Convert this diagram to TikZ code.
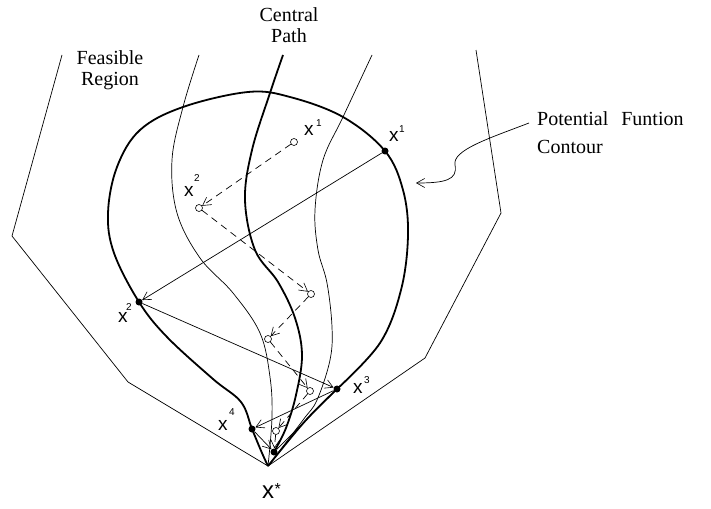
\documentclass[tikz,border=0pt]{standalone}
\usepackage{fontspec}
\setmainfont{Liberation Serif}
\newfontfamily\labfont{Liberation Sans}
\usetikzlibrary{arrows.meta}
\newcommand\xlab[3]{x\kern#1pt\raisebox{#2pt}{\fontsize{10}{10}\selectfont #3}}
\begin{document}
\begin{tikzpicture}[x=1pt,y=-1pt,
  fline/.style={line width=0.7pt},
  bline/.style={line width=1.8pt},
  dline/.style={line width=0.7pt, dash pattern=on 7pt off 5pt},
  arr/.style={-{Straight Barb[length=8pt,width=9pt,line width=0.6pt]}},
  fdot/.style={circle, fill=black, inner sep=0pt, minimum size=7pt},
  odot/.style={circle, draw, line width=0.6pt, inner sep=0pt, minimum size=7pt},
  lab/.style={font=\labfont\fontsize{19}{19}\selectfont, inner sep=0pt, anchor=base west},
  txt/.style={font=\fontsize{20}{21}\selectfont, inner sep=0pt, align=center}]
\useasboundingbox (0,0) rectangle (711,508);

% key points
\coordinate (B) at (268,466);
\node[fdot] (X1) at (385,151) {};
\node[fdot] (X2) at (139,302) {};
\node[fdot] (X3) at (337,389) {};
\node[fdot] (X4) at (252,429) {};
\node[fdot] (XS) at (274,452) {};
\node[odot] (O1) at (294,142) {};
\node[odot] (O2) at (199,208) {};
\node[odot] (O3) at (311,294) {};
\node[odot] (O4) at (268,339) {};
\node[odot] (O5) at (310,391) {};
\node[odot] (O6) at (276,431) {};

% feasible region
\draw[fline] (62,55) -- (12,236) -- (128,382) -- (B) -- (425,358) -- (501,213) -- (476,50);

% thin curves
\draw[fline] plot[smooth, tension=0.6] coordinates {(199,55) (183,107) (172,160) (177,213) (200,258) (233,293) (260,333) (270,377) (272,417) (B)};
\draw[fline] plot[smooth, tension=0.6] coordinates {(372,55) (343,117) (323,160) (315,210) (318,250) (327,283) (332,327) (330,360) (317,400) (303,420) (B)};

% central path
\draw[bline] plot[smooth, tension=0.6] coordinates {(283,55) (270,93) (252,150) (245,200) (255,250) (278,282) (295,318) (302,355) (296,395) (286,428) (XS.center)};

% potential function contour
\draw[bline] plot[smooth, tension=0.6] coordinates {(B) (262,453) (X4.center) (241,402) (213,379) (167,337) (X2.center) (114,253) (108,213) (117,167) (140,130) (183,107) (248,92) (290,97) (343,117) (X1.center) (403,190) (408,235) (401,290) (380,343) (X3.center)};
\draw[bline] (X3.center) .. controls (305,420) .. (B);

% solid iterates
\draw[fline, arr] (X1) -- (X2);
\draw[fline, arr] (X2) -- (X3);
\draw[fline, arr] (X3) -- (X4);
\draw[fline, arr] (X4) -- (XS);
\draw[fline] (X3) -- (XS);

% dashed iterates
\draw[dline, arr] (O1) -- (O2);
\draw[dline, arr] (O2) -- (O3);
\draw[dline, arr] (O3) -- (O4);
\draw[dline, arr] (O4) -- (O5);
\draw[dline, arr] (O5) -- (O6);
\draw[dline, arr] (O6) -- (XS);

% labels
\node[lab] (L1) at (389,141) {\xlab{0.5}{8.5}{1}};
\node[lab] (L1o) at (304,135) {\xlab{2.5}{8.5}{1}};
\node[lab] (L2o) at (184,196) {\xlab{0.5}{14.5}{2}};
\node[lab] (L2) at (118,322) {\xlab{-1.5}{11.5}{2}};
\node[lab] (L3) at (353,393) {\xlab{1.5}{9.5}{3}};
\node[lab] (L4) at (218,430) {\xlab{1.5}{14.5}{4}};
\node[lab, font=\labfont\fontsize{24}{24}\selectfont] (LS) at (262,498) {x\kern0.5pt\raisebox{4pt}{\fontsize{16}{16}\selectfont *}};

\node[txt] (FR) at (110,70) {Feasible\\Region};
\node[txt] (CP) at (289,25) {Central\\Path};
\node[txt, align=left, anchor=north west, font=\fontsize{20}{28}\selectfont] (PF) at (537,111) {Potential\hspace{8pt} Funtion\\Contour};

% callout
\coordinate (CA) at (529,123);
\coordinate (CT) at (416,183);
\draw[fline, arr] (CA) .. controls (490,138) and (452,150) .. (455,165) .. controls (458,180) and (445,183) .. (CT);
\end{tikzpicture}
\end{document}
